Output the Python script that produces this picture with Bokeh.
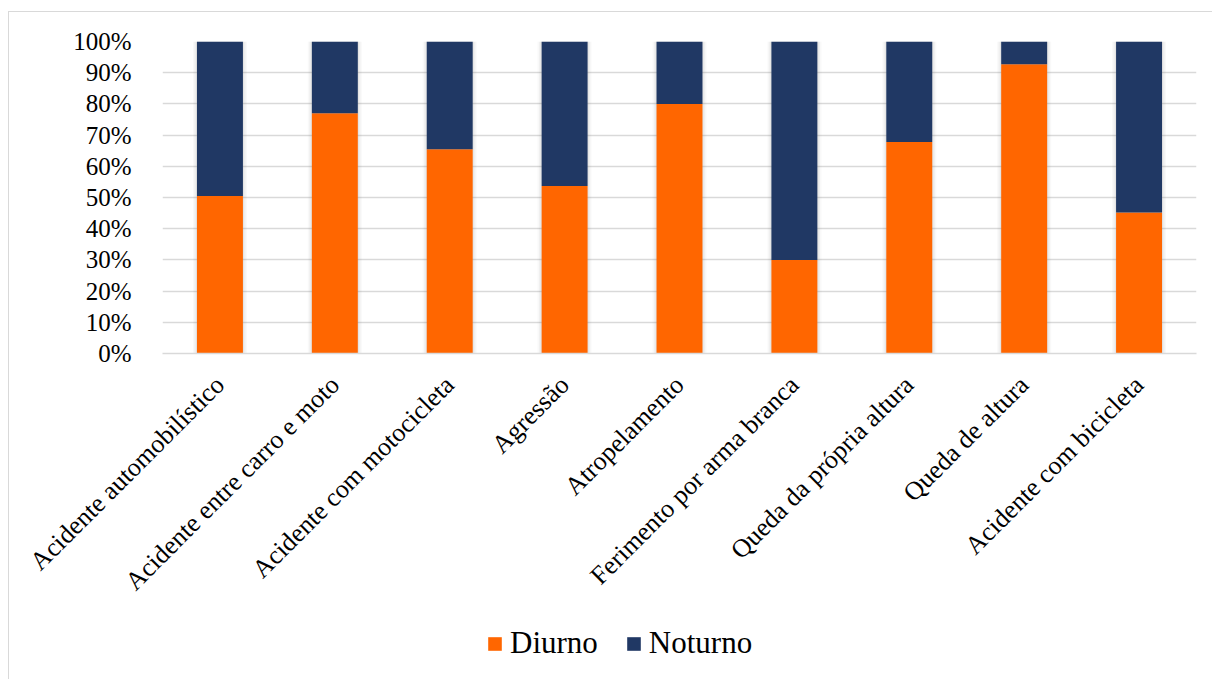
import math
from bokeh.plotting import figure
from bokeh.layouts import column
from bokeh.models import ColumnDataSource, FactorRange, Range1d, NumeralTickFormatter, Legend, LegendItem, FixedTicker
from bokeh.embed import file_html
from bokeh.resources import INLINE

# Share of trauma cases by time of day, per mechanism of injury
categories = [
    "Acidente automobilístico",
    "Acidente entre carro e moto",
    "Acidente com motocicleta",
    "Agressão",
    "Atropelamento",
    "Ferimento por arma branca",
    "Queda da própria altura",
    "Queda de altura",
    "Acidente com bicicleta",
]
diurno = [0.505, 0.77, 0.655, 0.537, 0.80, 0.30, 0.678, 0.927, 0.452]
noturno = [1 - d for d in diurno]
series = ["Diurno", "Noturno"]
y_ticks = [0, 0.1, 0.2, 0.3, 0.4, 0.5, 0.6, 0.7, 0.8, 0.9, 1.0]

ORANGE = "#FF6600"
NAVY = "#203864"
GRID = "#D9D9D9"
SERIF = "Liberation Serif"

src = ColumnDataSource(dict(
    cat=categories,
    Diurno=diurno,
    Noturno=noturno,
    total=[d + n for d, n in zip(diurno, noturno)],
))

p = figure(
    x_range=FactorRange(*categories, range_padding=0.0),
    y_range=Range1d(0, 1),
    width=1203, height=600,
    output_backend="svg", toolbar_location=None,
    min_border_left=153, min_border_right=16,
    min_border_top=29, min_border_bottom=259,
)
p.outline_line_color = None
p.background_fill_color = "white"
p.border_fill_color = "white"

BAR_W = 0.40

# soft drop shadow behind each column
for extra, alpha in [(0.07, 0.05), (0.045, 0.07), (0.02, 0.10)]:
    p.vbar(x="cat", top="total", bottom=0, width=BAR_W + extra, source=src,
           fill_color="#808080", fill_alpha=alpha, line_color=None)

p.vbar_stack(series, x="cat", width=BAR_W, source=src,
             color=[ORANGE, NAVY], line_color=None)

# axes
p.xaxis.axis_line_color = GRID
p.xaxis.axis_line_width = 1.5
p.xaxis.major_tick_line_color = None
p.xaxis.minor_tick_line_color = None
p.xaxis.major_label_orientation = math.pi / 4
p.xaxis.major_label_text_font = SERIF
p.xaxis.major_label_text_font_size = "26px"
p.xaxis.major_label_text_color = "black"
p.xaxis.major_label_standoff = 21

p.yaxis.ticker = FixedTicker(ticks=y_ticks)
p.yaxis.formatter = NumeralTickFormatter(format="0%")
p.yaxis.axis_line_color = None
p.yaxis.major_tick_line_color = None
p.yaxis.minor_tick_line_color = None
p.yaxis.major_label_text_font = SERIF
p.yaxis.major_label_text_font_size = "25px"
p.yaxis.major_label_text_color = "black"
p.yaxis.major_label_standoff = 25

p.xgrid.grid_line_color = None
p.ygrid.ticker = FixedTicker(ticks=y_ticks)
p.ygrid.grid_line_color = GRID
p.ygrid.grid_line_width = 1.5

# legend strip underneath the chart; its swatch renderers hold zero-height bars
leg = figure(
    width=1203, height=67,
    x_range=Range1d(0, 1), y_range=Range1d(0, 1),
    x_axis_type=None, y_axis_type=None,
    output_backend="svg", toolbar_location=None,
    min_border_left=153, min_border_right=16,
    min_border_top=0, min_border_bottom=0,
)
leg.outline_line_color = None
leg.grid.grid_line_color = None
leg.background_fill_color = "white"
leg.border_fill_color = "white"
swatch_src = ColumnDataSource(dict(x=[0.5], zero=[0.0]))
swatches = [leg.vbar(x="x", top="zero", bottom="zero", width=0.01, source=swatch_src,
                     fill_color=c, line_color=None)
            for c in (ORANGE, NAVY)]

legend = Legend(
    items=[LegendItem(label=s, renderers=[r]) for s, r in zip(series, swatches)],
    orientation="horizontal",
    location=(324, 18),
    label_text_font=SERIF,
    label_text_font_size="31px",
    label_text_color="black",
    glyph_width=17, glyph_height=17,
    label_standoff=7, spacing=27,
    padding=10, margin=0,
    border_line_color=None,
    background_fill_alpha=0,
)
leg.add_layout(legend, "center")

page = column(
    p, leg,
    spacing=0,
    margin=(11, 0, 0, 8),
    styles={"border-top": "1px solid #D9D9D9", "border-left": "1px solid #D9D9D9"},
)

open("out.html", "w").write(file_html(page, INLINE))
